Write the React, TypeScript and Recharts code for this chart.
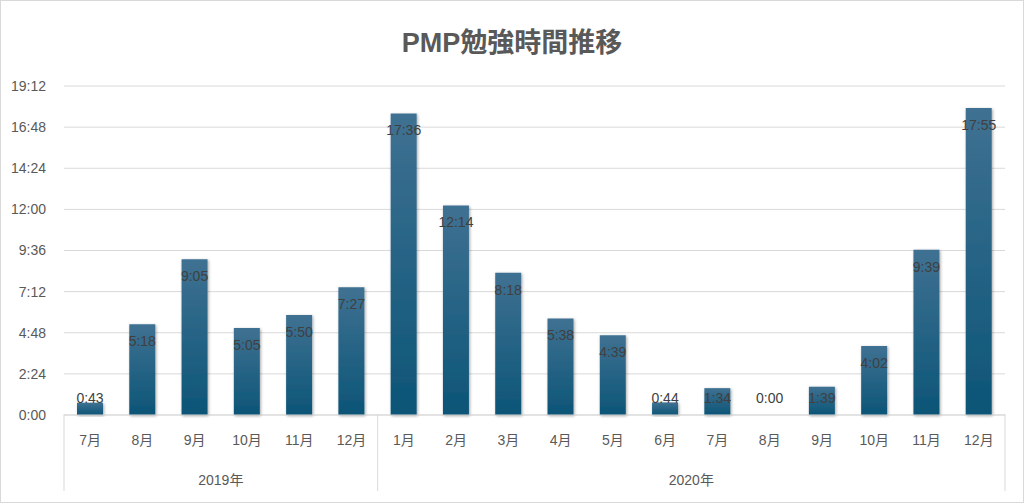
import React from 'react';
import { BarChart, Bar, XAxis, YAxis, CartesianGrid, LabelList, Rectangle } from 'recharts';

// months and years (two-level category axis)
const months = ['7月', '8月', '9月', '10月', '11月', '12月', '1月', '2月', '3月', '4月', '5月', '6月', '7月', '8月', '9月', '10月', '11月', '12月'];
const years = ['2019年', '2019年', '2019年', '2019年', '2019年', '2019年', '2020年', '2020年', '2020年', '2020年', '2020年', '2020年', '2020年', '2020年', '2020年', '2020年', '2020年', '2020年'];
// study time in minutes
const minutes = [43, 318, 545, 305, 350, 447, 1056, 734, 498, 338, 279, 44, 94, 0, 99, 242, 579, 1075];
const yTicks = [0, 144, 288, 432, 576, 720, 864, 1008, 1152];

const data = months.map((m, i) => ({ key: i, month: m, year: years[i], minutes: minutes[i] }));

const W = 1024;
const H = 503;
const CW = W - 2;
const M = { top: 86, right: 18, left: 0, bottom: 0 };
const Y_W = 63;
const BAND = (CW - M.right - Y_W) / data.length;
const FONT = '"Liberation Sans", "Noto Sans CJK JP", sans-serif';
const GREY = '#595959';
const LINE = '#d9d9d9';

const fmt = (v: number) => `${Math.floor(v / 60)}:${String(v % 60).padStart(2, '0')}`;

function YearTick(props: any) {
  const { x, y, index } = props;
  const yr = years[index];
  const first = index === 0 || years[index - 1] !== yr;
  const last = index === years.length - 1;
  const count = years.filter(v => v === yr).length;
  return (
    <g>
      {first && <line x1={x - BAND / 2} x2={x - BAND / 2} y1={414} y2={491} stroke={LINE} />}
      {last && <line x1={x + BAND / 2} x2={x + BAND / 2} y1={414} y2={491} stroke={LINE} />}
      {first && (
        <text x={x + ((count - 1) / 2) * BAND} y={y + 22} textAnchor="middle" fontSize={14} fill={GREY} fontFamily={FONT}>
          {yr}
        </text>
      )}
    </g>
  );
}

function BarShape(props: any) {
  if (!props.value) return <g />;
  return <Rectangle {...props} />;
}

function ValueLabel(props: any) {
  const { x, y, width, height, value } = props;
  const cy = Math.min(y + 17, y + height - 17);
  return (
    <text x={x + width / 2} y={cy} dy="0.35em" textAnchor="middle" fontSize={14} fill="#404040" fontFamily={FONT}>
      {fmt(value)}
    </text>
  );
}

export default function App() {
  return (
    <div style={{ position: 'absolute', left: 0, top: 0, width: W, height: H, background: '#fff', border: `1px solid ${LINE}`, boxSizing: 'border-box', fontFamily: FONT }}>
      <div style={{ position: 'absolute', top: 20, width: '100%', textAlign: 'center', fontSize: 27, fontWeight: 'bold', color: GREY, fontFamily: FONT }}>
        PMP勉強時間推移
      </div>
      <BarChart width={CW} height={H - 2} data={data} margin={M} barSize={26} style={{ position: 'absolute', left: 0, top: -1 }}>
        <defs>
          <linearGradient id="barGrad" x1="0" y1="0" x2="0" y2="1">
            <stop offset="0%" stopColor="#3f7192" />
            <stop offset="100%" stopColor="#0c5577" />
          </linearGradient>
          <filter id="shadow" x="-20%" y="-5%" width="140%" height="115%">
            <feDropShadow dx="1" dy="1" stdDeviation="1.5" floodColor="#000" floodOpacity="0.35" />
          </filter>
        </defs>
        <CartesianGrid vertical={false} stroke={LINE} />
        <XAxis
          dataKey="key"
          tickFormatter={(i: number) => months[i]}
          interval={0}
          tickLine={false}
          axisLine={{ stroke: LINE }}
          height={40}
          tickMargin={14}
          tick={{ fontSize: 14, fill: GREY, fontFamily: FONT }}
        />
        <XAxis
          xAxisId="year"
          dataKey="key"
          interval={0}
          tickLine={false}
          axisLine={false}
          height={46}
          tick={<YearTick />}
        />
        <YAxis
          domain={[0, 1152]}
          ticks={yTicks}
          tickFormatter={fmt}
          width={Y_W}
          tickLine={false}
          axisLine={false}
          tickMargin={12}
          tick={{ fontSize: 14, fill: GREY, fontFamily: FONT }}
        />
        <Bar dataKey="minutes" fill="url(#barGrad)" filter="url(#shadow)" minPointSize={1} shape={<BarShape />} isAnimationActive={false}>
          <LabelList dataKey="minutes" content={<ValueLabel />} />
        </Bar>
      </BarChart>
    </div>
  );
}
